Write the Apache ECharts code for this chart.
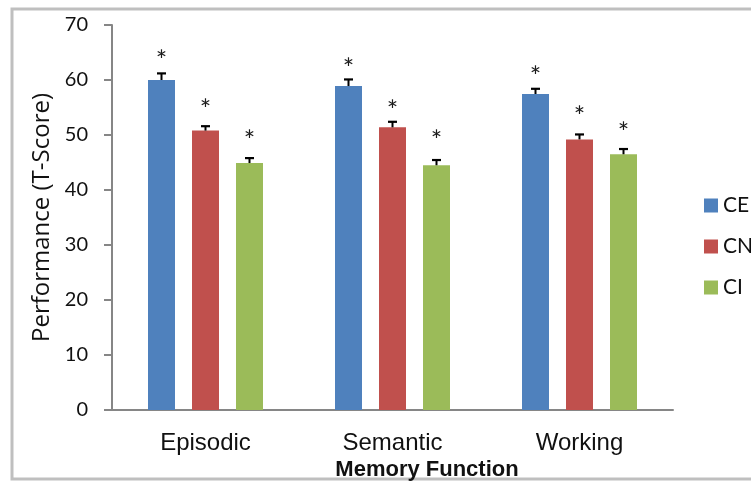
<!DOCTYPE html>
<html>
<head>
<meta charset="utf-8">
<script src="https://cdn.jsdelivr.net/npm/echarts@6/dist/echarts.min.js"></script>
<style>
  html, body { margin: 0; padding: 0; background: #fff; }
  #chart { width: 751px; height: 484px; }
</style>
</head>
<body>
<div id="chart"></div>
<script>
// Memory function categories and groups
const categories = ['Episodic', 'Semantic', 'Working'];
const groups = ['CE', 'CN', 'CI'];

// Mean T-scores per group
const ceMean = [60.0, 58.9, 57.45];
const cnMean = [50.8, 51.4, 49.2];
const ciMean = [44.9, 44.5, 46.5];

// Standard errors (upper whisker)
const ceErr = [1.2, 1.2, 0.95];
const cnErr = [0.8, 1.0, 0.9];
const ciErr = [0.9, 0.95, 0.95];

// Height of the significance asterisk above each bar
const ceStar = [64.6, 63.2, 61.8];
const cnStar = [55.7, 55.6, 54.5];
const ciStar = [50.1, 50.2, 51.6];

// Y-axis tick labels
const yTicks = [0, 10, 20, 30, 40, 50, 60, 70];

const colors = ['#4F81BD', '#C0504D', '#9BBB59'];
const means = [ceMean, cnMean, ciMean];
const errs = [ceErr, cnErr, ciErr];
const stars = [ceStar, cnStar, ciStar];

const BAR_W = 27;
const BAR_GAP = 17;

function whiskerSeries(gi) {
  return {
    type: 'custom',
    name: groups[gi] + ' error',
    z: 5,
    silent: true,
    data: categories.map((c, i) => [i, means[gi][i], errs[gi][i], stars[gi][i]]),
    renderItem: function (params, api) {
      const idx = api.value(0);
      const off = (gi - 1) * (BAR_W + BAR_GAP);
      const base = api.coord([idx, api.value(1)]);
      const top = api.coord([idx, api.value(1) + api.value(2)]);
      const st = api.coord([idx, api.value(3)]);
      const x = base[0] + off;
      const capHalf = 4.5;
      return {
        type: 'group',
        children: [
          { type: 'line', shape: { x1: x, y1: base[1], x2: x, y2: top[1] },
            style: { stroke: '#000', lineWidth: 2 } },
          { type: 'line', shape: { x1: x - capHalf, y1: top[1], x2: x + capHalf, y2: top[1] },
            style: { stroke: '#000', lineWidth: 2.2 } },
          { type: 'text', x: x, y: st[1] + 7,
            style: { text: '*', fill: '#1a1a1a', fontSize: 27, fontFamily: 'Lato',
                     align: 'center', verticalAlign: 'middle' } }
        ]
      };
    }
  };
}

const chart = echarts.init(document.getElementById('chart'), null, { renderer: 'canvas' });

const option = {
  animation: false,
  backgroundColor: '#fff',
  color: colors,
  grid: { left: 112, right: 78, top: 25, bottom: 74, containLabel: false },
  title: {
    text: 'Memory Function',
    left: 422, top: 454,
    textAlign: 'center',
    textStyle: { fontFamily: 'Liberation Sans', fontWeight: 'bold', fontSize: 22, color: '#111' }
  },
  legend: {
    orient: 'vertical',
    left: 699, top: 190,
    itemWidth: 14, itemHeight: 14, itemGap: 20,
    icon: 'rect',
    data: groups,
    textStyle: { fontFamily: 'Lato', fontSize: 21, color: '#111' }
  },
  xAxis: {
    type: 'category',
    data: categories,
    axisLine: { lineStyle: { color: '#868686', width: 2 } },
    axisTick: { show: false },
    axisLabel: { fontFamily: 'Liberation Sans', fontSize: 24, color: '#111', margin: 21 }
  },
  yAxis: {
    type: 'value',
    min: 0, max: 70, interval: 10,
    name: 'Performance (T-Score)',
    nameLocation: 'middle',
    nameGap: 55,
    nameTextStyle: { fontFamily: 'Open Sans', fontSize: 24, color: '#111' },
    axisLine: { show: true, lineStyle: { color: '#868686', width: 2 } },
    axisTick: { show: true, length: 8, lineStyle: { color: '#868686', width: 2 } },
    splitLine: { show: false },
    axisLabel: {
      fontFamily: 'Lato', fontSize: 20, color: '#111', margin: 24,
      formatter: v => (yTicks.indexOf(v) >= 0 ? String(v) : '')
    }
  },
  graphic: [
    { type: 'rect', shape: { x: 12, y: 9, width: 760, height: 470 },
      style: { fill: 'none', stroke: '#BFBFBF', lineWidth: 3 }, z: 0, silent: true }
  ],
  series: [
    ...groups.map((g, gi) => ({
      type: 'bar', name: g, data: means[gi],
      barWidth: BAR_W, barGap: (BAR_GAP / BAR_W * 100) + '%',
      itemStyle: { color: colors[gi] }
    })),
    ...groups.map((g, gi) => whiskerSeries(gi))
  ]
};

chart.setOption(option);
</script>
</body>
</html>
